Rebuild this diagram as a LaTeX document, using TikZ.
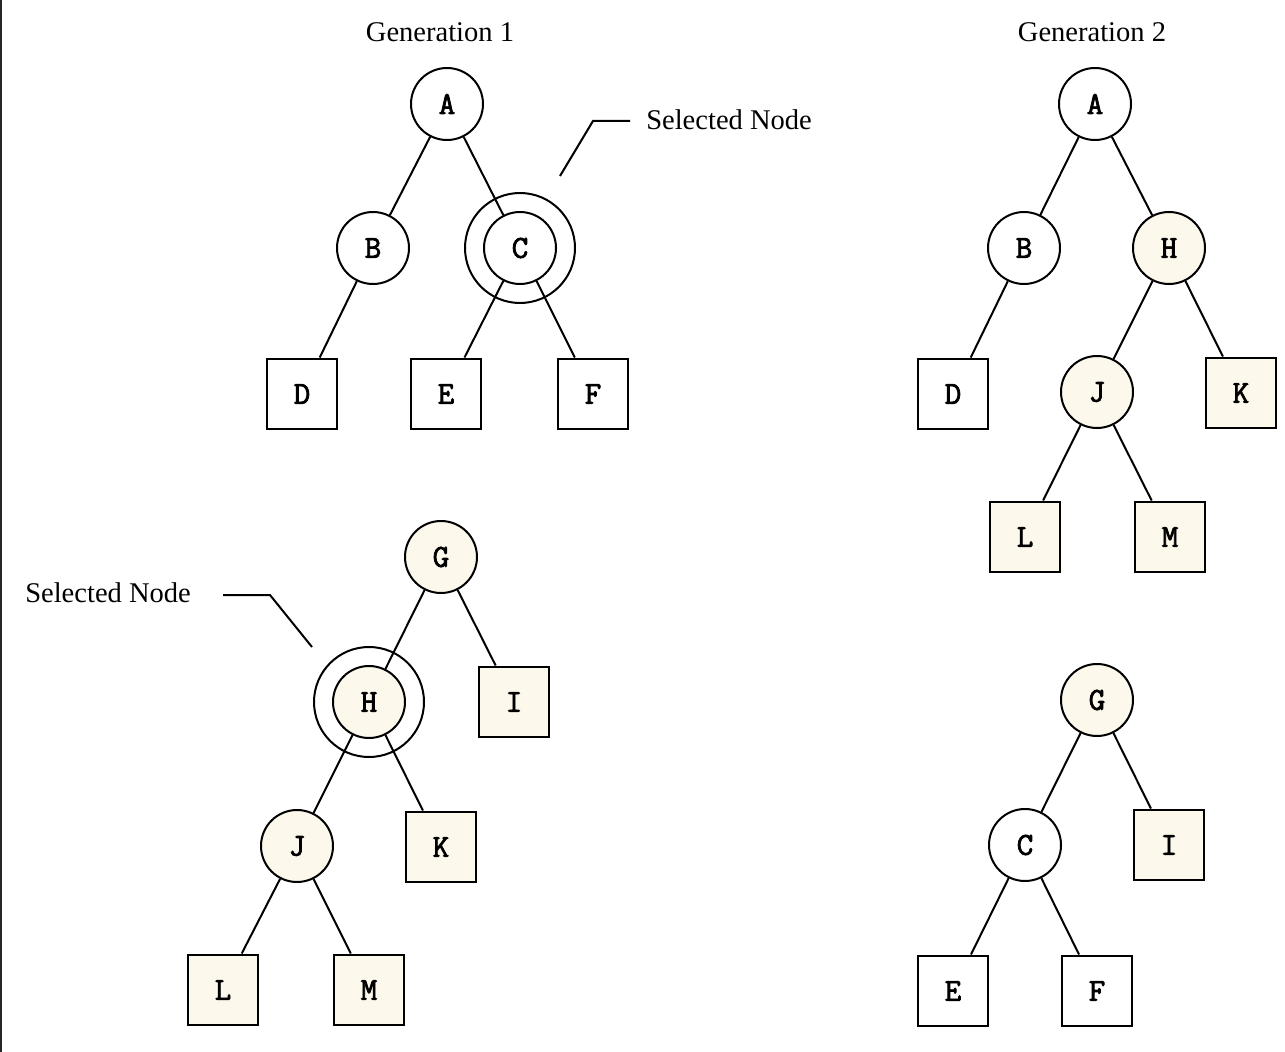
\documentclass[tikz,border=0pt]{standalone}
\usepackage{fontspec}
\setmainfont{Liberation Serif}
\newfontfamily\nodefont[FakeBold=2.5]{Latin Modern Mono}
\definecolor{cream}{RGB}{253,248,236}
\begin{document}
\begin{tikzpicture}[x=0.75pt,y=-0.75pt,
  edge/.style={line width=1.5pt},
  inode/.style={circle,draw,line width=1.5pt,minimum size=54pt,inner sep=0pt,
    font=\nodefont\fontsize{24}{24}\selectfont},
  leaf/.style={rectangle,draw,line width=2.2pt,minimum size=52.5pt,inner sep=0pt,
    font=\nodefont\fontsize{24}{24}\selectfont},
  new/.style={fill=cream},
  ring/.style={line width=1.5pt},
  caption/.style={font=\fontsize{21.4}{24}\selectfont,inner sep=0pt},
  callout/.style={line width=1.5pt}]
% canvas
\fill[white] (0,0) rectangle (1285,1052);
\useasboundingbox (0,0) rectangle (1285,1052);
\fill[black!85] (0,0) rectangle (2,1052);

% titles
\node[caption] (t1) at (440,32) {Generation 1};
\node[caption] (t2) at (1092,32) {Generation 2};

% ---- generation 1, first parent ----
\node[inode] (a1) at (447,104) {A};
\node[inode] (b1) at (373,248) {B};
\node[inode] (c1) at (520,248) {C};
\node[leaf]  (d1) at (302,394) {D};
\node[leaf]  (e1) at (446,394) {E};
\node[leaf]  (f1) at (593,394) {F};
\draw[ring] (c1.center) circle[radius=55];
\draw[edge] (a1) -- (b1);
\draw[edge] (a1) -- (c1);
\draw[edge] (b1) -- (d1);
\draw[edge] (c1) -- (e1);
\draw[edge] (c1) -- (f1);

% callout for the selected node C
\node[caption,anchor=west] (s1) at (646,120) {Selected Node};
\coordinate (s1k) at (593,121);
\coordinate (s1e) at (560,176);
\draw[callout] (630,121) -- (s1k) -- (s1e);

% ---- generation 1, second parent ----
\node[inode,new] (g1) at (441,557) {G};
\node[inode,new] (h1) at (369,702) {H};
\node[leaf,new]  (i1) at (514,702) {I};
\node[inode,new] (j1) at (297,846) {J};
\node[leaf,new]  (k1) at (441,847) {K};
\node[leaf,new]  (l1) at (223,990) {L};
\node[leaf,new]  (m1) at (369,990) {M};
\draw[ring] (h1.center) circle[radius=55];
\draw[edge] (g1) -- (h1);
\draw[edge] (g1) -- (i1);
\draw[edge] (h1) -- (j1);
\draw[edge] (h1) -- (k1);
\draw[edge] (j1) -- (l1);
\draw[edge] (j1) -- (m1);

% callout for the selected node H
\node[caption,anchor=west] (s2) at (25,593) {Selected Node};
\coordinate (s2k) at (270,595);
\coordinate (s2e) at (312,647);
\draw[callout] (223,595) -- (s2k) -- (s2e);

% ---- generation 2, first child ----
\node[inode] (a2) at (1095,104) {A};
\node[inode] (b2) at (1024,248) {B};
\node[inode,new] (h2) at (1169,248) {H};
\node[leaf]  (d2) at (953,394) {D};
\node[inode,new] (j2) at (1097,392) {J};
\node[leaf,new]  (k2) at (1241,393) {K};
\node[leaf,new]  (l2) at (1025,537) {L};
\node[leaf,new]  (m2) at (1170,537) {M};
\draw[edge] (a2) -- (b2);
\draw[edge] (a2) -- (h2);
\draw[edge] (b2) -- (d2);
\draw[edge] (h2) -- (j2);
\draw[edge] (h2) -- (k2);
\draw[edge] (j2) -- (l2);
\draw[edge] (j2) -- (m2);

% ---- generation 2, second child ----
\node[inode,new] (g2) at (1097,700) {G};
\node[inode] (c2) at (1025,845) {C};
\node[leaf,new]  (i2) at (1169,845) {I};
\node[leaf]  (e2) at (953,991) {E};
\node[leaf]  (f2) at (1097,991) {F};
\draw[edge] (g2) -- (c2);
\draw[edge] (g2) -- (i2);
\draw[edge] (c2) -- (e2);
\draw[edge] (c2) -- (f2);
\end{tikzpicture}
\end{document}
